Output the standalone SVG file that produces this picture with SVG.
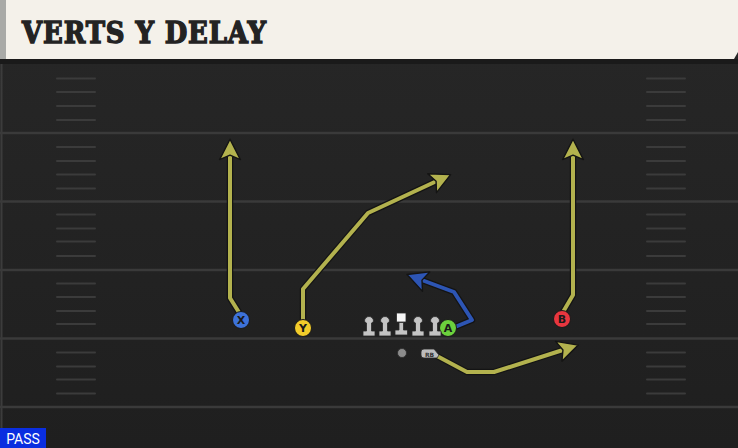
<svg xmlns="http://www.w3.org/2000/svg" width="738" height="448" viewBox="0 0 738 448">
<defs>
<style>
.yl{stroke:#3a3a3a;stroke-width:2.5}
.hm{stroke:#3b3b3b;stroke-width:2;stroke-linecap:round}
.rt-o{fill:none;stroke:#141414;stroke-width:6.5;stroke-linejoin:round;stroke-linecap:round}
.rt{fill:none;stroke:#b3b24e;stroke-width:4;stroke-linejoin:round;stroke-linecap:round}
.rt-b{fill:none;stroke:#2d55b4;stroke-width:4;stroke-linejoin:round;stroke-linecap:round}
.lt{font-family:"DejaVu Sans","Liberation Sans",sans-serif;font-weight:bold;font-size:11px;fill:#1a1a1a;text-anchor:middle}
.ol{fill:#c4c4c4;stroke:#2a2a2a;stroke-width:0.8}
</style>
<marker id="ah" markerWidth="6" markerHeight="6" refX="2.2" refY="3" orient="auto" markerUnits="strokeWidth" viewBox="0 0 6 6">
<path d="M0.3,0.4 L5.4,3 L0.3,5.6 L1.4,3 Z" fill="#b3b24e" stroke="#141414" stroke-width="0.35" stroke-linejoin="round"/>
</marker>
<marker id="ahb" markerWidth="6" markerHeight="6" refX="2.2" refY="3" orient="auto" markerUnits="strokeWidth" viewBox="0 0 6 6">
<path d="M0.3,0.4 L5.4,3 L0.3,5.6 L1.4,3 Z" fill="#2d55b4" stroke="#141414" stroke-width="0.35" stroke-linejoin="round"/>
</marker>
<linearGradient id="fg" x1="0" y1="0" x2="0" y2="1">
<stop offset="0" stop-color="#272727"/>
<stop offset="1" stop-color="#1f1f1f"/>
</linearGradient>
</defs>
<rect x="0" y="0" width="738" height="448" fill="url(#fg)"/>
<rect x="0" y="59" width="738" height="5" fill="#1a1a1a"/>
<line x1="1.5" y1="64" x2="1.5" y2="448" stroke="#3c3c3c" stroke-width="2"/>
<g id="field">
<line class="yl" x1="0" y1="133" x2="738" y2="133"/>
<line class="yl" x1="0" y1="201.5" x2="738" y2="201.5"/>
<line class="yl" x1="0" y1="270" x2="738" y2="270"/>
<line class="yl" x1="0" y1="338.5" x2="738" y2="338.5"/>
<line class="yl" x1="0" y1="407" x2="738" y2="407"/>
<g id="hashL">
<line class="hm" x1="57" y1="78.5" x2="95" y2="78.5"/>
<line class="hm" x1="57" y1="92" x2="95" y2="92"/>
<line class="hm" x1="57" y1="106" x2="95" y2="106"/>
<line class="hm" x1="57" y1="120" x2="95" y2="120"/>
<line class="hm" x1="57" y1="147" x2="95" y2="147"/>
<line class="hm" x1="57" y1="161" x2="95" y2="161"/>
<line class="hm" x1="57" y1="174.5" x2="95" y2="174.5"/>
<line class="hm" x1="57" y1="188.5" x2="95" y2="188.5"/>
<line class="hm" x1="57" y1="214.5" x2="95" y2="214.5"/>
<line class="hm" x1="57" y1="228.5" x2="95" y2="228.5"/>
<line class="hm" x1="57" y1="241.5" x2="95" y2="241.5"/>
<line class="hm" x1="57" y1="256" x2="95" y2="256"/>
<line class="hm" x1="57" y1="283.5" x2="95" y2="283.5"/>
<line class="hm" x1="57" y1="297" x2="95" y2="297"/>
<line class="hm" x1="57" y1="311" x2="95" y2="311"/>
<line class="hm" x1="57" y1="324" x2="95" y2="324"/>
<line class="hm" x1="57" y1="352.5" x2="95" y2="352.5"/>
<line class="hm" x1="57" y1="366.5" x2="95" y2="366.5"/>
<line class="hm" x1="57" y1="379.5" x2="95" y2="379.5"/>
<line class="hm" x1="57" y1="393.5" x2="95" y2="393.5"/>
</g>
<use href="#hashL" x="590"/>
</g>
<g id="header">
<path d="M0,0 H738 V52 L734,59 H0 Z" fill="#f4f1ea"/>
<rect x="0" y="0" width="6" height="59" fill="#a9aaa7"/>
<text x="22" y="43" font-family="'DejaVu Serif','Liberation Serif',serif" font-weight="bold" font-size="29" fill="#232323" stroke="#232323" stroke-width="1.4" letter-spacing="1" textLength="245" lengthAdjust="spacingAndGlyphs">VERTS Y DELAY</text>
</g>
<g id="connectors">
<polyline class="rt-o" points="240,314 230,298 230,152"/>
<polyline class="rt" points="240,314 230,298 230,152" marker-end="url(#ah)"/>
<polyline class="rt-o" points="303,321 303,289 368,213 439,180"/>
<polyline class="rt" points="303,321 303,289 368,213 439,180" marker-end="url(#ah)"/>
<polyline class="rt-o" points="563,312 573,295 573,152"/>
<polyline class="rt" points="563,312 573,295 573,152" marker-end="url(#ah)"/>
<polyline class="rt-o" points="437,356 467,372 494,372 566,349"/>
<polyline class="rt" points="437,356 467,372 494,372 566,349" marker-end="url(#ah)"/>
<polyline class="rt-o" points="455,327 472,320 454,292 419,279"/>
<polyline class="rt-b" points="455,327 472,320 454,292 419,279" marker-end="url(#ahb)"/>
</g>
<g id="X"><circle cx="241" cy="320" r="8.5" fill="#3d72d9" stroke="#1a1a1a" stroke-width="1"/><text class="lt" x="241" y="324">X</text></g>
<g id="Y"><circle cx="303" cy="328" r="8.5" fill="#f2cc2a" stroke="#1a1a1a" stroke-width="1"/><text class="lt" x="303" y="332">Y</text></g>
<g id="A"><circle cx="448" cy="328" r="8.5" fill="#6cd13d" stroke="#1a1a1a" stroke-width="1"/><text class="lt" x="448" y="332">A</text></g>
<g id="B"><circle cx="562" cy="319" r="8.5" fill="#e8363f" stroke="#1a1a1a" stroke-width="1"/><text class="lt" x="562" y="323">B</text></g>
<g id="LT"><path class="ol" d="M363,336 V331 H366.5 V323 A2.5,2.5 0 0 1 364.5,321 A4.5,4.5 0 1 1 373.5,321 A2.5,2.5 0 0 1 371.5,323 V331 H375 V336 Z"/></g>
<g id="LG"><path class="ol" d="M379,336 V331 H382.5 V323 A2.5,2.5 0 0 1 380.5,321 A4.5,4.5 0 1 1 389.5,321 A2.5,2.5 0 0 1 387.5,323 V331 H391 V336 Z"/></g>
<g id="C"><rect x="396.5" y="313" width="9.5" height="9" fill="#f6f6f6" stroke="#2a2a2a" stroke-width="0.8"/><path class="ol" d="M395,335 V330 H399 V322.5 H403.5 V330 H407.5 V335 Z"/></g>
<g id="RG"><path class="ol" d="M412,336 V331 H415.5 V323 A2.5,2.5 0 0 1 413.5,321 A4.5,4.5 0 1 1 422.5,321 A2.5,2.5 0 0 1 420.5,323 V331 H424 V336 Z"/></g>
<g id="RT"><path class="ol" d="M429,336 V331 H432.5 V323 A2.5,2.5 0 0 1 430.5,321 A4.5,4.5 0 1 1 439.5,321 A2.5,2.5 0 0 1 437.5,323 V331 H441 V336 Z"/></g>
<g id="QB"><circle cx="402" cy="353" r="4.5" fill="#8c8c8c" stroke="#2a2a2a" stroke-width="0.8"/></g>
<g id="RB"><path d="M424,349 H434 L439,355 L437,358 H424 Q421,358 421,355 V352 Q421,349 424,349 Z" fill="#bdbdbd" stroke="#2a2a2a" stroke-width="0.8"/><text x="429.5" y="356.5" font-family="'DejaVu Sans','Liberation Sans',sans-serif" font-weight="bold" font-size="6" fill="#333" text-anchor="middle">RB</text></g>
<g id="pass"><rect x="0" y="428" width="46" height="20" fill="#0a2ee0"/><text x="23" y="444" font-family="'Roboto','Liberation Sans',sans-serif" font-size="14" fill="#ffffff" text-anchor="middle">PASS</text></g>
</svg>
